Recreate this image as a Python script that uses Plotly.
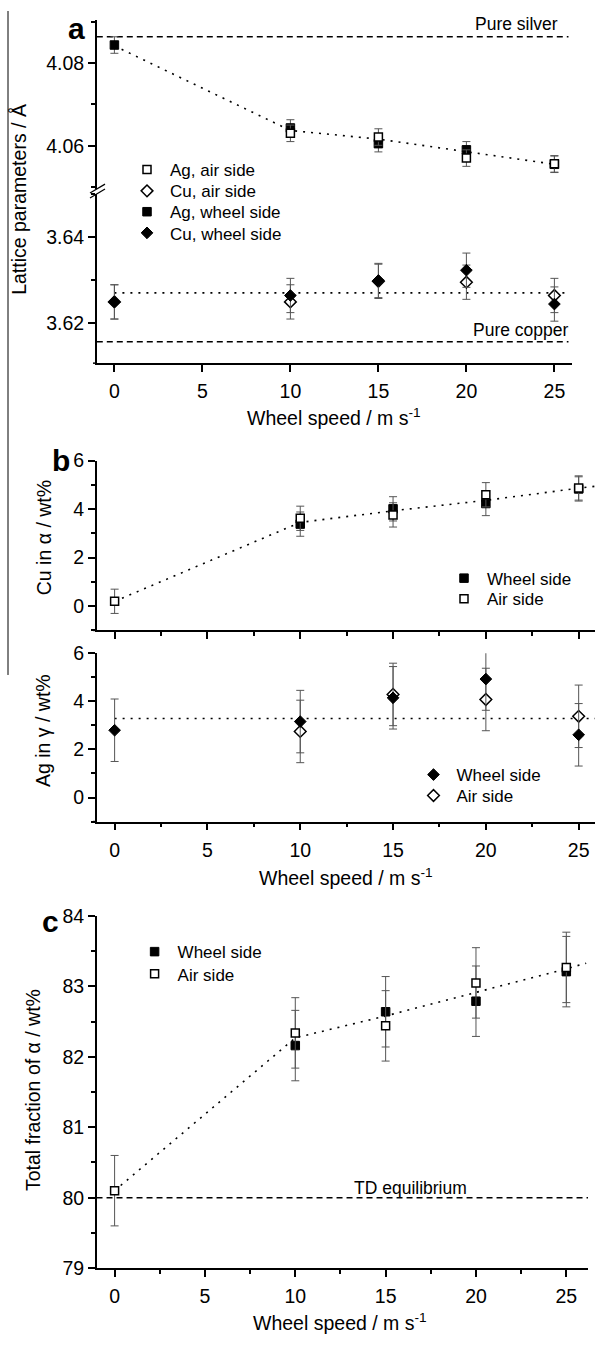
import plotly.graph_objects as go

W, H = 595, 1348
FONT = "Liberation Sans, Arial, sans-serif"


def px(x):
    return x / W


def py(y):
    return 1 - y / H


# ---------------- data ----------------
speed = [0, 10, 15, 20, 25]

# panel a : lattice parameters
ag_air = [None, 4.0630, 4.0621, 4.0570, 4.0556]
ag_wheel = [4.0844, 4.0643, 4.0605, 4.0590, 4.0555]
ag_err = [0.0020, 0.0020, 0.0020, 0.0020, 0.0020]
cu_air = [3.6249, 3.6249, 3.6297, 3.6295, 3.6264]
cu_wheel = [3.6249, 3.6264, 3.6299, 3.6323, 3.6244]
cu_err = [0.0040, 0.0040, 0.0040, 0.0040, 0.0040]
fit_ag_x = [0, 10, 15, 20, 25, 25.5]
fit_ag_y = [4.0842, 4.0637, 4.0616, 4.0586, 4.0555, 4.0552]
fit_cu_x = [0, 25.6]
fit_cu_y = [3.6270, 3.6270]
ref_x_a = [-1, 25.8]
pure_silver = [4.0864, 4.0864]
pure_copper = [3.6156, 3.6156]

# panel b : compositions
cu_alpha_wheel = [None, 3.38, 4.01, 4.23, 4.83]
cu_alpha_air = [0.20, 3.62, 3.76, 4.59, 4.87]
cu_alpha_err = [0.5, 0.5, 0.5, 0.5, 0.5]
fit_cu_alpha_x = [0, 10, 15, 20, 25, 26]
fit_cu_alpha_y = [0.20, 3.45, 3.93, 4.36, 4.86, 4.95]

ag_gamma_wheel = [2.80, 3.16, 4.15, 4.93, 2.61]
ag_gamma_air = [None, 2.75, 4.29, 4.08, 3.38]
ag_gamma_err = [1.3, 1.3, 1.3, 1.3, 1.3]
fit_ag_gamma_x = [0, 26]
fit_ag_gamma_y = [3.29, 3.29]

# panel c : fraction of alpha
frac_wheel = [None, 82.16, 82.64, 82.79, 83.21]
frac_air = [80.10, 82.34, 82.44, 83.05, 83.27]
frac_err = [0.5, 0.5, 0.5, 0.5, 0.5]
fit_frac_x = [0, 10, 15, 20, 25, 26.1]
fit_frac_y = [80.10, 82.27, 82.58, 82.91, 83.25, 83.33]
ref_x_c = [-1, 26.2]
td_equilibrium = [80.0, 80.0]

# ---------------- styles ----------------
ERR = dict(type="data", color="#555555", thickness=1, width=4)
DOT = dict(color="black", width=1.6, dash="2px,6px")
DASH = dict(color="black", width=1.5, dash="6px,4px")


def filled(symbol, size):
    return dict(symbol=symbol, size=size, color="black", line=dict(color="black", width=1))


def opened(symbol, size):
    return dict(symbol=symbol, size=size, color="white", line=dict(color="black", width=1.5))


fig = go.Figure()

# ----- panel a -----
fig.add_trace(go.Scatter(x=fit_ag_x, y=fit_ag_y, mode="lines", line=DOT, showlegend=False,
                         xaxis="x", yaxis="y"))
fig.add_trace(go.Scatter(x=ref_x_a, y=pure_silver, mode="lines", line=DASH, showlegend=False,
                         xaxis="x", yaxis="y"))
fig.add_trace(go.Scatter(x=speed, y=ag_wheel, mode="markers", name="Ag, wheel side",
                         marker=filled("square", 8.5), error_y=dict(array=ag_err, **ERR),
                         xaxis="x", yaxis="y", legend="legend3"))
fig.add_trace(go.Scatter(x=speed, y=ag_air, mode="markers", name="Ag, air side",
                         marker=opened("square", 8), error_y=dict(array=ag_err, **ERR),
                         xaxis="x", yaxis="y", legend="legend"))
fig.add_trace(go.Scatter(x=fit_cu_x, y=fit_cu_y, mode="lines", line=DOT, showlegend=False,
                         xaxis="x", yaxis="y2"))
fig.add_trace(go.Scatter(x=ref_x_a, y=pure_copper, mode="lines", line=DASH, showlegend=False,
                         xaxis="x", yaxis="y2"))
fig.add_trace(go.Scatter(x=speed, y=cu_air, mode="markers", name="Cu, air side",
                         marker=opened("diamond", 9), error_y=dict(array=cu_err, **ERR),
                         xaxis="x", yaxis="y2", legend="legend2"))
fig.add_trace(go.Scatter(x=speed, y=cu_wheel, mode="markers", name="Cu, wheel side",
                         marker=filled("diamond", 9), error_y=dict(array=cu_err, **ERR),
                         xaxis="x", yaxis="y2", legend="legend4"))

# ----- panel b (upper) -----
fig.add_trace(go.Scatter(x=fit_cu_alpha_x, y=fit_cu_alpha_y, mode="lines", line=DOT,
                         showlegend=False, xaxis="x2", yaxis="y3"))
fig.add_trace(go.Scatter(x=speed, y=cu_alpha_wheel, mode="markers", name="Wheel side",
                         marker=filled("square", 8.5), error_y=dict(array=cu_alpha_err, **ERR),
                         xaxis="x2", yaxis="y3", legend="legend5"))
fig.add_trace(go.Scatter(x=speed, y=cu_alpha_air, mode="markers", name="Air side",
                         marker=opened("square", 8), error_y=dict(array=cu_alpha_err, **ERR),
                         xaxis="x2", yaxis="y3", legend="legend6"))

# ----- panel b (lower) -----
fig.add_trace(go.Scatter(x=fit_ag_gamma_x, y=fit_ag_gamma_y, mode="lines", line=DOT,
                         showlegend=False, xaxis="x3", yaxis="y4"))
fig.add_trace(go.Scatter(x=speed, y=ag_gamma_air, mode="markers", name="Air side",
                         marker=opened("diamond", 9), error_y=dict(array=ag_gamma_err, **ERR),
                         xaxis="x3", yaxis="y4", legend="legend8"))
fig.add_trace(go.Scatter(x=speed, y=ag_gamma_wheel, mode="markers", name="Wheel side",
                         marker=filled("diamond", 9), error_y=dict(array=ag_gamma_err, **ERR),
                         xaxis="x3", yaxis="y4", legend="legend7"))

# ----- panel c -----
fig.add_trace(go.Scatter(x=fit_frac_x, y=fit_frac_y, mode="lines", line=DOT,
                         showlegend=False, xaxis="x4", yaxis="y5"))
fig.add_trace(go.Scatter(x=ref_x_c, y=td_equilibrium, mode="lines", line=DASH,
                         showlegend=False, xaxis="x4", yaxis="y5"))
fig.add_trace(go.Scatter(x=speed, y=frac_wheel, mode="markers", name="Wheel side",
                         marker=filled("square", 8.5), error_y=dict(array=frac_err, **ERR),
                         xaxis="x4", yaxis="y5", legend="legend9"))
fig.add_trace(go.Scatter(x=speed, y=frac_air, mode="markers", name="Air side",
                         marker=opened("square", 8), error_y=dict(array=frac_err, **ERR),
                         xaxis="x4", yaxis="y5", legend="legend10"))

# ---------------- axes ----------------
TICKFONT = dict(family=FONT, size=19.5, color="black")


def ax(**kw):
    d = dict(showline=True, linecolor="black", linewidth=1.5, ticks="outside",
             tickcolor="black", tickwidth=1.5, ticklen=7, showgrid=False, zeroline=False,
             tickfont=TICKFONT, fixedrange=True)
    d.update(kw)
    return d


MINOR_X = dict(dtick=2.5, tick0=0, ticks="outside", ticklen=4, tickcolor="black", tickwidth=1.5)

fig.update_layout(
    xaxis=ax(domain=[px(96.8), px(572)], range=[-1, 26], anchor="y2", dtick=5, tick0=0,
             ticklabelstandoff=3),
    yaxis=ax(domain=[py(181), py(9)], range=[4.0495, 4.0905], anchor="x", tick0=4.06,
             dtick=0.02, tickformat=".2f",
             minor=dict(dtick=0.01, tick0=4.06, ticks="outside", ticklen=4,
                        tickcolor="black", tickwidth=1.5)),
    yaxis2=ax(domain=[py(358), py(186)], range=[3.6106, 3.6501], anchor="x", tick0=3.62,
              dtick=0.02, tickformat=".2f",
              minor=dict(dtick=0.01, tick0=3.62, ticks="outside", ticklen=4,
                         tickcolor="black", tickwidth=1.5)),
    xaxis2=ax(domain=[px(96.8), 1.0], range=[-0.96, 25.88], anchor="y3", dtick=5, tick0=0,
              showticklabels=False, minor=MINOR_X),
    yaxis3=ax(domain=[py(629.7), py(457)], range=[-1, 6], anchor="x2", dtick=2, tick0=0,
              minor=dict(dtick=1, tick0=0, ticks="outside", ticklen=4, tickcolor="black",
                         tickwidth=1.5)),
    xaxis3=ax(domain=[px(96.8), 1.0], range=[-0.96, 25.88], anchor="y4", dtick=5, tick0=0,
              minor=MINOR_X, ticklabelstandoff=3),
    yaxis4=ax(domain=[py(824), py(653)], range=[-1, 6], anchor="x3", dtick=2, tick0=0,
              minor=dict(dtick=1, tick0=0, ticks="outside", ticklen=4, tickcolor="black",
                         tickwidth=1.5)),
    xaxis4=ax(domain=[px(96.8), px(588)], range=[-0.985, 26.2], anchor="y5", dtick=5, tick0=0,
              minor=MINOR_X, ticklabelstandoff=3),
    yaxis5=ax(domain=[py(1278), py(920)], range=[79, 84], anchor="x4", dtick=1, tick0=79,
              minor=dict(dtick=0.5, tick0=79, ticks="outside", ticklen=4, tickcolor="black",
                         tickwidth=1.5)),
)

# ---------------- legends (one entry each, placed row by row) ----------------
LEGFONT = dict(family=FONT, size=17, color="black")


def leg(marker_x, row_y):
    return dict(x=px(marker_x - 24), y=py(row_y), xanchor="left", yanchor="middle",
                bgcolor="rgba(0,0,0,0)", font=LEGFONT, borderwidth=0, itemwidth=36)


fig.update_layout(
    legend=leg(148, 161.7),
    legend2=leg(148, 183.3),
    legend3=leg(148, 204.5),
    legend4=leg(148, 226),
    legend5=leg(465, 577),
    legend6=leg(465, 598),
    legend7=leg(434.5, 776.7),
    legend8=leg(434.5, 798),
    legend9=leg(155.6, 956.7),
    legend10=leg(155.6, 979.3),
)

# ---------------- annotations ----------------
ann = []


def text(x, y, t, size=19.5, angle=0, **kw):
    ann.append(dict(x=px(x), y=py(y), xref="paper", yref="paper", text=t, showarrow=False,
                    textangle=angle, xanchor="center", yanchor="middle",
                    font=dict(family=FONT, size=size, color="black"), **kw))


xtitle = "Wheel speed / m s<sup>-1</sup>"
text(334, 413, xtitle)
text(346, 880, xtitle)
text(340, 1333, xtitle)
text(19, 192, "Lattice parameters / Å", angle=-90)
text(44, 536, "Cu in α / wt%", angle=-90)
text(43, 732, "Ag in γ / wt%", angle=-90)
text(33, 1097, "Total fraction of α / wt%", angle=-90)
text(516, 13, "Pure silver", size=17.5)
text(521, 324, "Pure copper", size=17.5)
text(410, 1197, "TD equilibrium", size=17.5)
text(76, 18, "<b>a</b>", size=30)
text(61, 457, "<b>b</b>", size=30)
text(50, 926, "<b>c</b>", size=30)
fig.update_layout(annotations=ann)

# ---------------- shapes (axis break, frame line, axis stubs) ----------------
BLACK = dict(color="black", width=1.5)
shapes = [
    dict(type="line", xref="paper", yref="paper", x0=px(90), y0=py(185), x1=px(105), y1=py(176),
         line=dict(color="black", width=1.2)),
    dict(type="line", xref="paper", yref="paper", x0=px(90), y0=py(190), x1=px(105), y1=py(181),
         line=dict(color="black", width=1.2)),
    dict(type="line", xref="paper", yref="paper", x0=px(8), y0=py(0), x1=px(8), y1=py(675),
         line=dict(color="black", width=1)),
]
for yb in (358, 629.7, 824, 1278):
    shapes.append(dict(type="line", xref="paper", yref="paper", x0=px(93), x1=px(97),
                       y0=py(yb), y1=py(yb), line=BLACK))
fig.update_layout(shapes=shapes)

fig.update_layout(width=W, height=H, autosize=False, margin=dict(l=0, r=0, t=0, b=0),
                  paper_bgcolor="white", plot_bgcolor="white",
                  font=dict(family=FONT, color="black"))

fig.write_html("out.html")
